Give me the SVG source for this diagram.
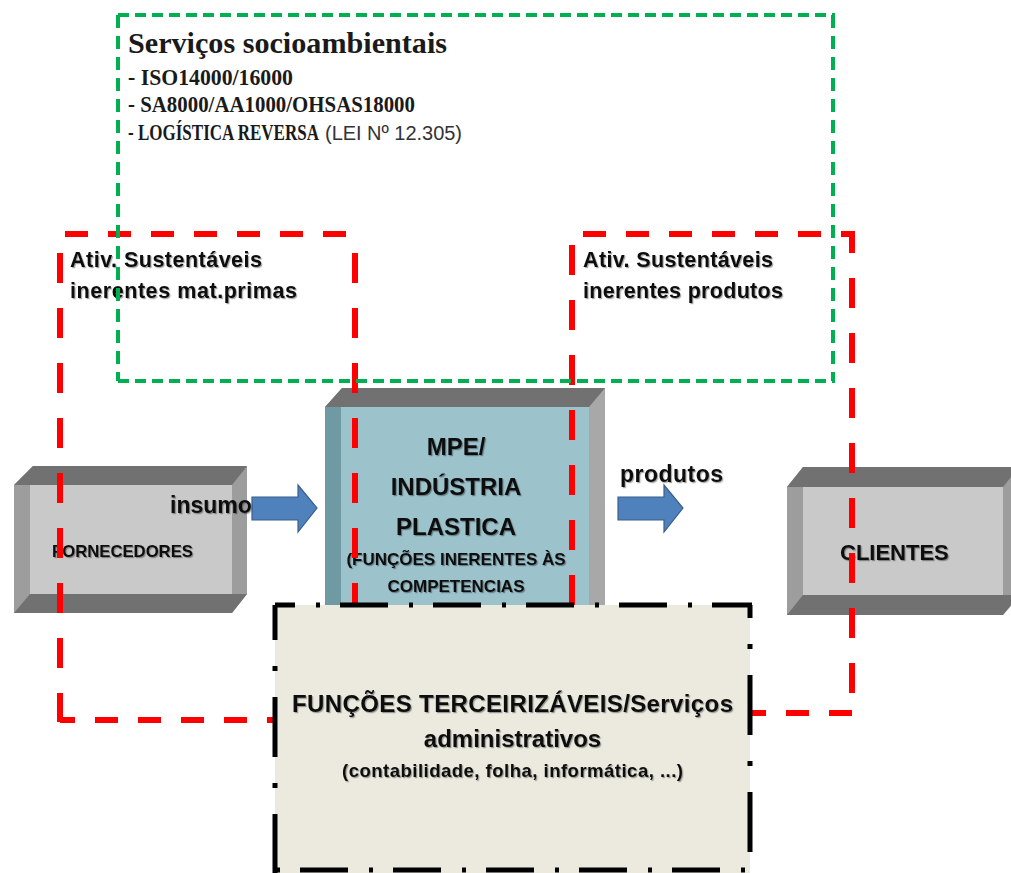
<svg xmlns="http://www.w3.org/2000/svg" width="1011" height="873" viewBox="0 0 1011 873">
  <defs>
    <filter id="shadow" x="-5%" y="-20%" width="110%" height="140%">
      <feDropShadow dx="1.2" dy="1.2" stdDeviation="0.6" flood-color="#000" flood-opacity="0.35"/>
    </filter>
  </defs>
  <style>
    .sans { font-family: "Liberation Sans", Arial, sans-serif; font-weight: bold; fill: #111; }
    .serif { font-family: "Liberation Serif", "Times New Roman", serif; font-weight: bold; fill: #1a1a1a; }
    .reg { font-family: "Liberation Sans", Arial, sans-serif; font-weight: normal; fill: #333; }
    .sh { filter: url(#shadow); }
    .topband { fill: #717171; }
    .side { fill: #9d9d9d; }
    .face { fill: #c9c9c9; }
    .arrow { fill: #4F81BD; stroke: #3A5F8C; stroke-width: 1.2; }
    .redh { stroke: #FF0000; stroke-width: 6; fill: none; stroke-dasharray: 23 20; }
    .redv { stroke: #FF0000; stroke-width: 6; fill: none; stroke-dasharray: 30 25; }
    .greenh { stroke: #00B050; stroke-width: 4; fill: none; stroke-dasharray: 11 6; }
    .greenv { stroke: #00B050; stroke-width: 4; fill: none; stroke-dasharray: 13 8; }
    .blkh { stroke: #000; stroke-width: 5; fill: none; stroke-dasharray: 48 21 4 20; }
    .blkv { stroke: #000; stroke-width: 5; fill: none; stroke-dasharray: 60 26 5 26; }
  </style>

  <!-- FORNECEDORES block -->
  <g id="fornecedores">
    <polygon class="side" points="14,485 33,466 247,466 247,594 232,613 14,613"/>
    <polygon class="topband" points="33,466 247,466 232,485 14,485"/>
    <polygon class="topband" points="30,594 247,594 232,613 14,613"/>
    <rect class="face" x="30" y="485" width="202" height="109"/>
    <text class="sans sh" x="52" y="557" font-size="16.7">FORNECEDORES</text>
  </g>

  <!-- CLIENTES block -->
  <g id="clientes">
    <polygon class="side" points="787,487 803,467 1019,467 1019,597 1003,615 787,615"/>
    <polygon class="topband" points="803,467 1019,467 1003,487 787,487"/>
    <polygon class="topband" points="803,595 1019,595 1003,615 787,615"/>
    <rect class="face" x="803" y="487" width="200" height="108"/>
    <text class="sans sh" x="840" y="560" font-size="22">CLIENTES</text>
  </g>

  <!-- MPE / industry block -->
  <g id="mpe">
    <polygon fill="#a8a8a8" points="325,407 342,388 605,388 605,625 325,625"/>
    <polygon class="topband" points="342,388 605,388 589,407 325,407"/>
    <rect fill="#6f9aa4" x="325" y="407" width="16" height="218"/>
    <rect fill="#9cc2cc" x="341" y="407" width="248" height="218"/>
    <g class="sans sh" text-anchor="middle">
      <text x="456" y="455" font-size="24">MPE/</text>
      <text x="456" y="495" font-size="24">INDÚSTRIA</text>
      <text x="456" y="535" font-size="24">PLASTICA</text>
      <text x="456" y="565" font-size="17">(FUNÇÕES INERENTES ÀS</text>
      <text x="456" y="592" font-size="17">COMPETENCIAS</text>
    </g>
  </g>

  <!-- flow arrows -->
  <g id="connectors">
    <polygon class="arrow" points="252,497 298,497 298,485 317,508 298,532 298,520 252,520"/>
    <polygon class="arrow" points="618,497 664,497 664,485 683,508 664,532 664,520 618,520"/>
    <text class="sans sh" x="170" y="513" font-size="23">insumo</text>
    <text class="sans sh" x="620" y="482" font-size="23" textLength="103">produtos</text>
  </g>

  <!-- sustainable activities: raw materials -->
  <g id="ativ-materias">
    <line class="redh" x1="65" y1="234" x2="350" y2="234"/>
    <line class="redv" x1="60" y1="253" x2="60" y2="722"/>
    <line class="redv" x1="355" y1="253" x2="355" y2="620"/>
    <line class="redh" x1="60" y1="720" x2="290" y2="720" stroke-dashoffset="8"/>
    <text class="sans sh" x="70" y="267" font-size="21.5" textLength="192">Ativ.  Sustentáveis</text>
    <text class="sans sh" x="70" y="298" font-size="21.5" textLength="227">inerentes mat.primas</text>
  </g>

  <!-- sustainable activities: products -->
  <g id="ativ-produtos">
    <line class="redh" x1="583" y1="234" x2="855" y2="234"/>
    <line class="redv" x1="852" y1="233" x2="852" y2="715" stroke-dashoffset="10"/>
    <line class="redv" x1="572" y1="245" x2="572" y2="620"/>
    <line class="redh" x1="852" y1="713" x2="740" y2="713" stroke-dasharray="25 20"/>
    <text class="sans sh" x="583" y="267" font-size="21.5" textLength="190">Ativ. Sustentáveis</text>
    <text class="sans sh" x="583" y="298" font-size="21.5" textLength="200">inerentes produtos</text>
  </g>

  <!-- socio-environmental services -->
  <g id="servicos-socioambientais">
    <line class="greenh" x1="118" y1="15" x2="835" y2="15"/>
    <line class="greenh" x1="118" y1="381" x2="835" y2="381"/>
    <line class="greenv" x1="118" y1="15" x2="118" y2="381"/>
    <line class="greenv" x1="833" y1="15" x2="833" y2="381"/>
    <text class="serif" x="128" y="53" font-size="30" textLength="319" lengthAdjust="spacingAndGlyphs">Serviços socioambientais</text>
    <text class="serif" x="128" y="85" font-size="23" textLength="165" lengthAdjust="spacingAndGlyphs">- ISO14000/16000</text>
    <text class="serif" x="128" y="112" font-size="23" textLength="287" lengthAdjust="spacingAndGlyphs">- SA8000/AA1000/OHSAS18000</text>
    <!-- condensed serif run, followed by the law reference in sans -->
    <text class="serif" font-size="23" transform="translate(128 140) scale(0.74 1)">- LOGÍSTICA REVERSA</text>
    <text class="reg" x="325" y="140" font-size="20" textLength="137">(LEI Nº 12.305)</text>
  </g>

  <!-- outsourceable functions -->
  <g id="funcoes-terceirizaveis">
    <rect x="275" y="605" width="475" height="268" fill="#ECEADF"/>
    <line class="blkh" x1="275" y1="605" x2="752" y2="605" stroke-dashoffset="28"/>
    <line class="blkh" x1="275" y1="870" x2="752" y2="870" stroke-dashoffset="68"/>
    <line class="blkv" x1="275" y1="605" x2="275" y2="873" stroke-dashoffset="25"/>
    <line class="blkv" x1="750" y1="605" x2="750" y2="873" stroke-dashoffset="47"/>
    <g class="sans sh" text-anchor="middle">
      <text x="512.5" y="712" font-size="24" textLength="441">FUNÇÕES  TERCEIRIZÁVEIS/Serviços</text>
      <text x="512.5" y="747" font-size="24">administrativos</text>
      <text x="512.5" y="777" font-size="18.5" textLength="341">(contabilidade, folha,  informática, ...)</text>
    </g>
  </g>
</svg>
